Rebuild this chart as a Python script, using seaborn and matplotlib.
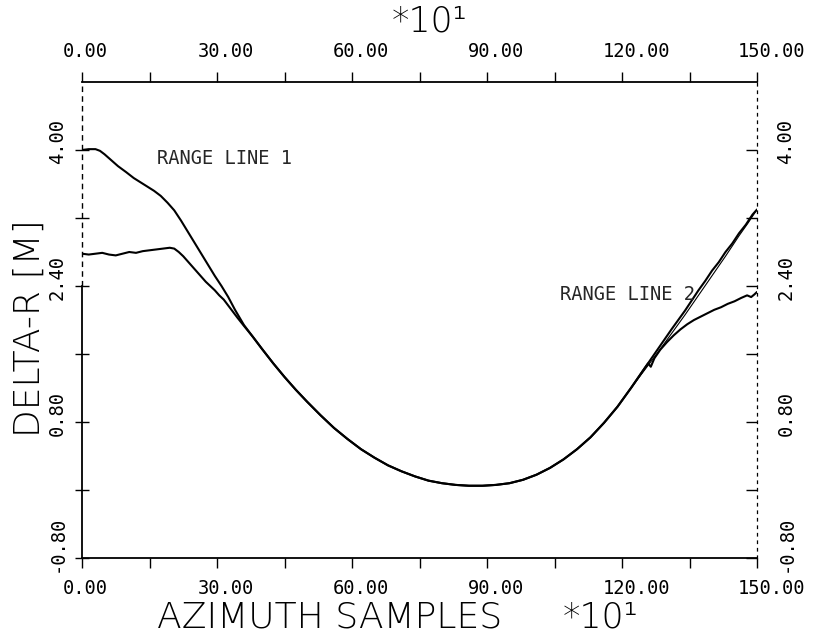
import numpy as np
import pandas as pd
import matplotlib
matplotlib.use("Agg")
import matplotlib.pyplot as plt
from matplotlib.transforms import ScaledTranslation
import seaborn as sns

# ---------------- data (x in units of 10 azimuth samples, y = delta-R [m]) ----------------
line1_left_x = [0, 1.5, 3, 4, 5, 6.5, 8, 9.8, 11.5, 13, 14.5, 16, 17.5, 19, 20.5, 22,
                23.5, 25, 26.5, 28, 29.5, 31, 32.5, 34, 36]
line1_left_y = [4.00, 4.01, 4.01, 3.99, 3.95, 3.88, 3.81, 3.74, 3.67, 3.62, 3.57, 3.52,
                3.46, 3.38, 3.29, 3.17, 3.04, 2.91, 2.78, 2.65, 2.52, 2.40, 2.27, 2.12, 1.94]

line2_left_x = [0, 1.5, 3, 4.5, 6, 7.5, 9, 10.5, 12, 13.5, 15, 16.5, 18, 19.5, 20.5, 21.5,
                22.5, 23.5, 24.5, 25.5, 26.5, 27.5, 28.5, 29.5, 30.5, 31.5, 32.5, 33.5, 34.5, 36]
line2_left_y = [2.78, 2.77, 2.78, 2.79, 2.77, 2.76, 2.78, 2.80, 2.79, 2.81, 2.82, 2.83, 2.84,
                2.85, 2.84, 2.80, 2.75, 2.69, 2.63, 2.57, 2.51, 2.45, 2.40, 2.35, 2.29, 2.24,
                2.17, 2.10, 2.03, 1.93]

common_x = [38, 40, 42.5, 45, 47.5, 50, 53, 56, 59, 62, 65, 68, 71, 74, 77, 80, 83, 86, 89,
            92, 95, 98, 101, 104, 107, 110, 113, 116, 119, 122]
common_y = [1.80, 1.66, 1.49, 1.33, 1.18, 1.04, 0.88, 0.73, 0.60, 0.48, 0.38, 0.29, 0.22,
            0.16, 0.11, 0.08, 0.06, 0.05, 0.05, 0.06, 0.08, 0.12, 0.18, 0.26, 0.36, 0.48,
            0.62, 0.79, 0.98, 1.20]

line1_right_x = [125, 128, 131, 132.5, 134, 135.5, 137, 138.5, 140, 141.5, 143, 144.5, 146,
                 147.5, 149, 150]
line1_right_y = [1.43, 1.66, 1.89, 2.00, 2.11, 2.23, 2.35, 2.46, 2.58, 2.68, 2.80, 2.90,
                 3.02, 3.12, 3.24, 3.30]

line2_right_x = [125, 125.8, 126.4, 127.2, 128.5, 130, 131.5, 133, 134.5, 136, 137.5, 139,
                 140.5, 142, 143.5, 145, 146.5, 147.8, 148.7, 149.4, 150]
line2_right_y = [1.43, 1.49, 1.45, 1.55, 1.65, 1.74, 1.82, 1.89, 1.95, 2.00, 2.04, 2.08,
                 2.12, 2.15, 2.19, 2.22, 2.26, 2.29, 2.27, 2.30, 2.33]

theory_right_x = [122, 125, 128, 131, 134, 137, 140, 143, 146, 148, 150]
theory_right_y = [1.20, 1.41, 1.62, 1.84, 2.06, 2.29, 2.52, 2.75, 2.99, 3.14, 3.30]

x_ticks = [0, 15, 30, 45, 60, 75, 90, 105, 120, 135, 150]
x_tick_labels = ["0.00", "", "30.00", "", "60.00", "", "90.00", "", "120.00", "", "150.00"]
y_ticks = [-0.8, 0.0, 0.8, 1.6, 2.4, 3.2, 4.0]
y_tick_labels = ["-0.80", "", "0.80", "", "2.40", "", "4.00"]

x_label = "AZIMUTH SAMPLES"
y_label = "DELTA-R [M]"
scale_label = "*10\u00b9"
line1_label = "RANGE LINE 1"
line2_label = "RANGE LINE 2"

# ---------------- build tables ----------------
df1 = pd.DataFrame({"x": line1_left_x + common_x + line1_right_x,
                    "y": line1_left_y + common_y + line1_right_y})
df2 = pd.DataFrame({"x": line2_left_x + common_x + line2_right_x,
                    "y": line2_left_y + common_y + line2_right_y})
dft = pd.DataFrame({"x": theory_right_x, "y": theory_right_y})

sns.set_style("ticks")
plt.rcParams["font.family"] = ["DejaVu Sans Mono", "DejaVu Sans"]

W, H = 813, 635
fig = plt.figure(figsize=(W / 100, H / 100), dpi=100)
L, R, T, B = 82, 757, 82, 558
ax = fig.add_axes([L / W, 1 - B / H, (R - L) / W, (B - T) / H])

sns.lineplot(data=dft, x="x", y="y", estimator=None, sort=False, color="black", lw=0.8, ax=ax)
sns.lineplot(data=df1, x="x", y="y", estimator=None, sort=False, color="black", lw=1.5, ax=ax)
sns.lineplot(data=df2, x="x", y="y", estimator=None, sort=False, color="black", lw=1.5, ax=ax)

ax.set_xlim(0, 150)
ax.set_ylim(-0.8, 4.8)
ax.set_xlabel("")
ax.set_ylabel("")

ax.set_xticks(x_ticks)
ax.set_xticklabels(x_tick_labels)
ax.set_yticks(y_ticks)
ax.set_yticklabels(y_tick_labels)

ax.tick_params(axis="x", which="both", direction="out", length=7, width=1.0, pad=8,
               top=True, labeltop=True, bottom=True, labelbottom=True, labelsize=13.5,
               colors="black")
ax.tick_params(axis="y", which="both", direction="inout", length=10, width=1.0, pad=6,
               left=True, labelleft=True, right=False, labelright=False, labelsize=13.5,
               colors="black", labelrotation=90)
for s in ["bottom", "top"]:
    ax.spines[s].set_color("black")
    ax.spines[s].set_linewidth(1.3)
ax.spines["left"].set_color("black")
ax.spines["left"].set_linewidth(1.3)
ax.spines["left"].set_bounds(-0.8, 2.4)
ax.spines["right"].set_visible(False)
ax.axvline(0, ymin=(2.4 + 0.8) / 5.6, ymax=1, color="black", lw=1.0, ls=(0, (4, 3)),
           clip_on=False)

# right axis (inward ticks, dotted spine)
ax2 = ax.twinx()
ax2.set_ylim(-0.8, 4.8)
ax2.set_yticks(y_ticks)
ax2.set_yticklabels(y_tick_labels)
ax2.tick_params(axis="y", direction="in", length=8, width=1.0, pad=14, labelsize=13.5,
                colors="black", labelrotation=90)
for s in ["left", "bottom", "top"]:
    ax2.spines[s].set_visible(False)
ax2.spines["right"].set_color("black")
ax2.spines["right"].set_linewidth(0.9)
ax2.spines["right"].set_linestyle((0, (2, 4)))
ax2.grid(False)

# plotter-style label placement: x labels start left of tick, y labels start below tick
offx = ScaledTranslation(-19 / 100, 0, fig.dpi_scale_trans)
for t in ax.xaxis.get_major_ticks():
    for lab in (t.label1, t.label2):
        lab.set_horizontalalignment("left")
        lab.set_transform(lab.get_transform() + offx)
offy = ScaledTranslation(0, -14 / 100, fig.dpi_scale_trans)
for axis_obj in (ax.yaxis, ax2.yaxis):
    for t in axis_obj.get_major_ticks():
        for lab in (t.label1, t.label2):
            lab.set_verticalalignment("bottom")
            lab.set_transform(lab.get_transform() + offy)

# curve annotations
ax.text(16.7, 3.90, line1_label, ha="left", va="center", fontsize=13.5)
ax.text(106.2, 2.30, line2_label, ha="left", va="center", fontsize=13.5)

# axis titles
big = dict(family=["DejaVu Sans"], fontweight="light", color="black")
fig.text(157 / W, 1 - 627 / H, x_label, ha="left", va="baseline", fontsize=26, **big)
fig.text(563 / W, 1 - 627 / H, scale_label, ha="left", va="baseline", fontsize=25, **big)
fig.text(392 / W, 1 - 31 / H, scale_label, ha="left", va="baseline", fontsize=25, **big)
fig.text(30 / W, 1 - 328 / H, y_label, ha="center", va="center", rotation=90,
         fontsize=26, **big)

fig.savefig("out.png", dpi=100, facecolor="white")
